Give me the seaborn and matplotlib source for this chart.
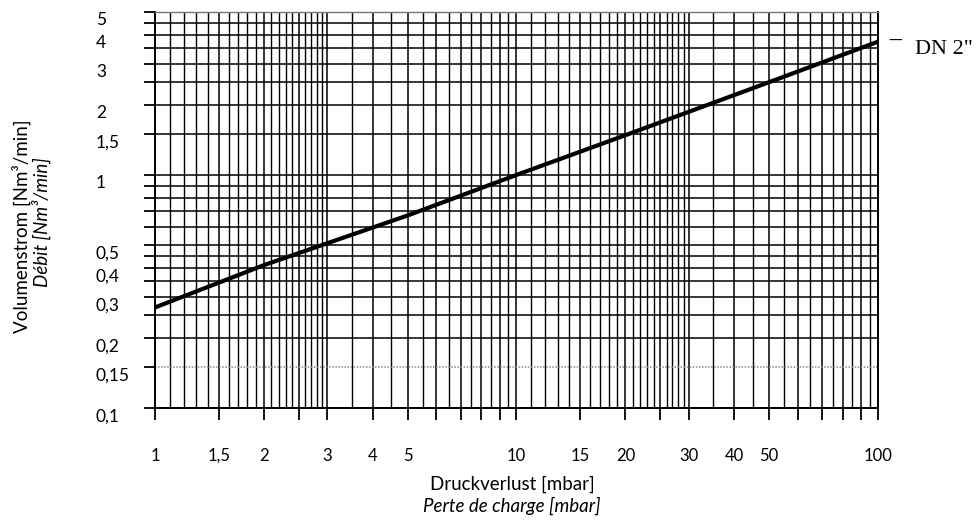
import matplotlib
matplotlib.use("Agg")
import matplotlib.pyplot as plt
import seaborn as sns
import pandas as pd
from matplotlib.transforms import ScaledTranslation
from matplotlib.ticker import FixedLocator, FixedFormatter

# ---- data ----
pressure_drop = [1, 2, 5, 10, 20, 50, 100]          # mbar
flow_dn2 = [0.27, 0.41, 0.67, 1.0, 1.48, 2.5, 3.73]  # Nm3/min

x_major = [1, 1.5, 2, 2.5, 3, 4, 5, 6, 7, 8, 9, 10,
           15, 20, 25, 30, 40, 50, 60, 70, 80, 90, 100]
x_minor = [1.1, 1.2, 1.3, 1.4, 1.6, 1.7, 1.8, 1.9,
           2.1, 2.2, 2.3, 2.4, 2.6, 2.7, 2.8, 2.9,
           3.5, 4.5, 5.5, 6.5, 7.5, 8.5, 9.5,
           11, 12, 13, 14, 16, 17, 18, 19,
           21, 22, 23, 24, 26, 27, 28, 29,
           35, 45, 55, 65, 75, 85, 95]
x_tick_labels = {1: "1", 1.5: "1,5", 2: "2", 3: "3", 4: "4", 5: "5",
                 10: "10", 15: "15", 20: "20", 30: "30", 40: "40",
                 50: "50", 100: "100"}

y_grid = [0.1, 0.15, 0.2, 0.25, 0.3, 0.35, 0.4, 0.45, 0.5, 0.6, 0.7,
          0.8, 0.9, 1, 1.5, 2, 2.5, 3, 3.5, 4, 4.5, 5]
y_tick_labels = {0.1: "0,1", 0.15: "0,15", 0.2: "0,2", 0.3: "0,3",
                 0.4: "0,4", 0.5: "0,5", 1: "1", 1.5: "1,5", 2: "2",
                 3: "3", 4: "4", 5: "5"}

series_label = 'DN 2"'

df = pd.DataFrame({"dp": pressure_drop, "flow": flow_dn2})

# ---- style ----
sns.set_style("white")
plt.rcParams["font.family"] = ["Lato", "DejaVu Sans"]
plt.rcParams["text.color"] = "black"
plt.rcParams["axes.labelcolor"] = "black"
plt.rcParams["xtick.color"] = "black"
plt.rcParams["ytick.color"] = "black"

W, H = 978, 523
fig = plt.figure(figsize=(W / 100, H / 100), dpi=100)
L, R, T, B = 155, 878, 12, 408
ax = fig.add_axes([L / W, 1 - B / H, (R - L) / W, (B - T) / H])
ax.set_xscale("log")
ax.set_yscale("log")

sns.lineplot(data=df, x="dp", y="flow", ax=ax, color="black",
             linewidth=3, zorder=5)

ax.set_xlim(1, 100)
ax.set_ylim(0.1, 5)

# x ticks
ax.xaxis.set_major_locator(FixedLocator(x_major))
ax.xaxis.set_major_formatter(FixedFormatter([x_tick_labels.get(v, "") for v in x_major]))
ax.xaxis.set_minor_locator(FixedLocator(x_minor))
ax.xaxis.set_minor_formatter(FixedFormatter([""] * len(x_minor)))
ax.tick_params(axis="x", which="major", direction="out", length=8.6,
               width=1.3, color="black", pad=20, labelsize=12,
               labelcolor="black", bottom=True)
ax.tick_params(axis="x", which="minor", length=0, bottom=False)

# y ticks
ax.yaxis.set_major_locator(FixedLocator(y_grid))
ax.yaxis.set_major_formatter(FixedFormatter([y_tick_labels.get(v, "") for v in y_grid]))
ax.yaxis.set_minor_locator(FixedLocator([]))
ax.tick_params(axis="y", which="major", direction="out", length=8,
               width=1.3, color="black", pad=34.5, labelsize=12.5,
               labelcolor="black", left=True)

for lab in ax.get_yticklabels():
    lab.set_horizontalalignment("left")
    lab.set_transform(lab.get_transform() +
                      ScaledTranslation(0, -0.07, fig.dpi_scale_trans))

# grid
ax.grid(True, which="major", axis="both", color="black", linewidth=1.1)
ax.grid(True, which="minor", axis="x", color="black", linewidth=1.0)
for t in ax.yaxis.get_major_ticks():
    if abs(t.get_loc() - 0.15) < 1e-9:
        t.gridline.set_color("#888888")
        t.gridline.set_linestyle((0, (1, 1)))

for side in ["left", "right", "bottom"]:
    ax.spines[side].set_visible(True)
    ax.spines[side].set_color("black")
    ax.spines[side].set_linewidth(1.4)
ax.spines["top"].set_color("#777777")
ax.spines["top"].set_linestyle((0, (1, 1)))
ax.spines["top"].set_linewidth(1.0)

ax.set_xlabel("")
ax.set_ylabel("")

# series label at right end of the line
fig.text(888 / W, 1 - 41 / H, "\u2014", fontsize=10, ha="left", va="center",
         family=["DejaVu Sans"], color="black")
fig.text(915 / W, 1 - 49 / H, series_label, fontsize=16, ha="left",
         va="center", family=["Liberation Serif", "DejaVu Serif"],
         color="black")

# axis titles
fig.text(512 / W, 1 - 484 / H, "Druckverlust [mbar]", fontsize=13.5,
         ha="center", va="center")
fig.text(512 / W, 1 - 506 / H, "Perte de charge [mbar]", fontsize=13.5,
         ha="center", va="center", style="italic")
fig.text(21 / W, 1 - 226 / H, "Volumenstrom [Nm\u00b3/min]", fontsize=13.5,
         ha="center", va="center", rotation=90)
fig.text(41 / W, 1 - 222 / H, "D\u00e9bit [Nm\u00b3/min]", fontsize=13.5,
         ha="center", va="center", rotation=90, style="italic")

fig.savefig("out.png", dpi=100, facecolor="white")
